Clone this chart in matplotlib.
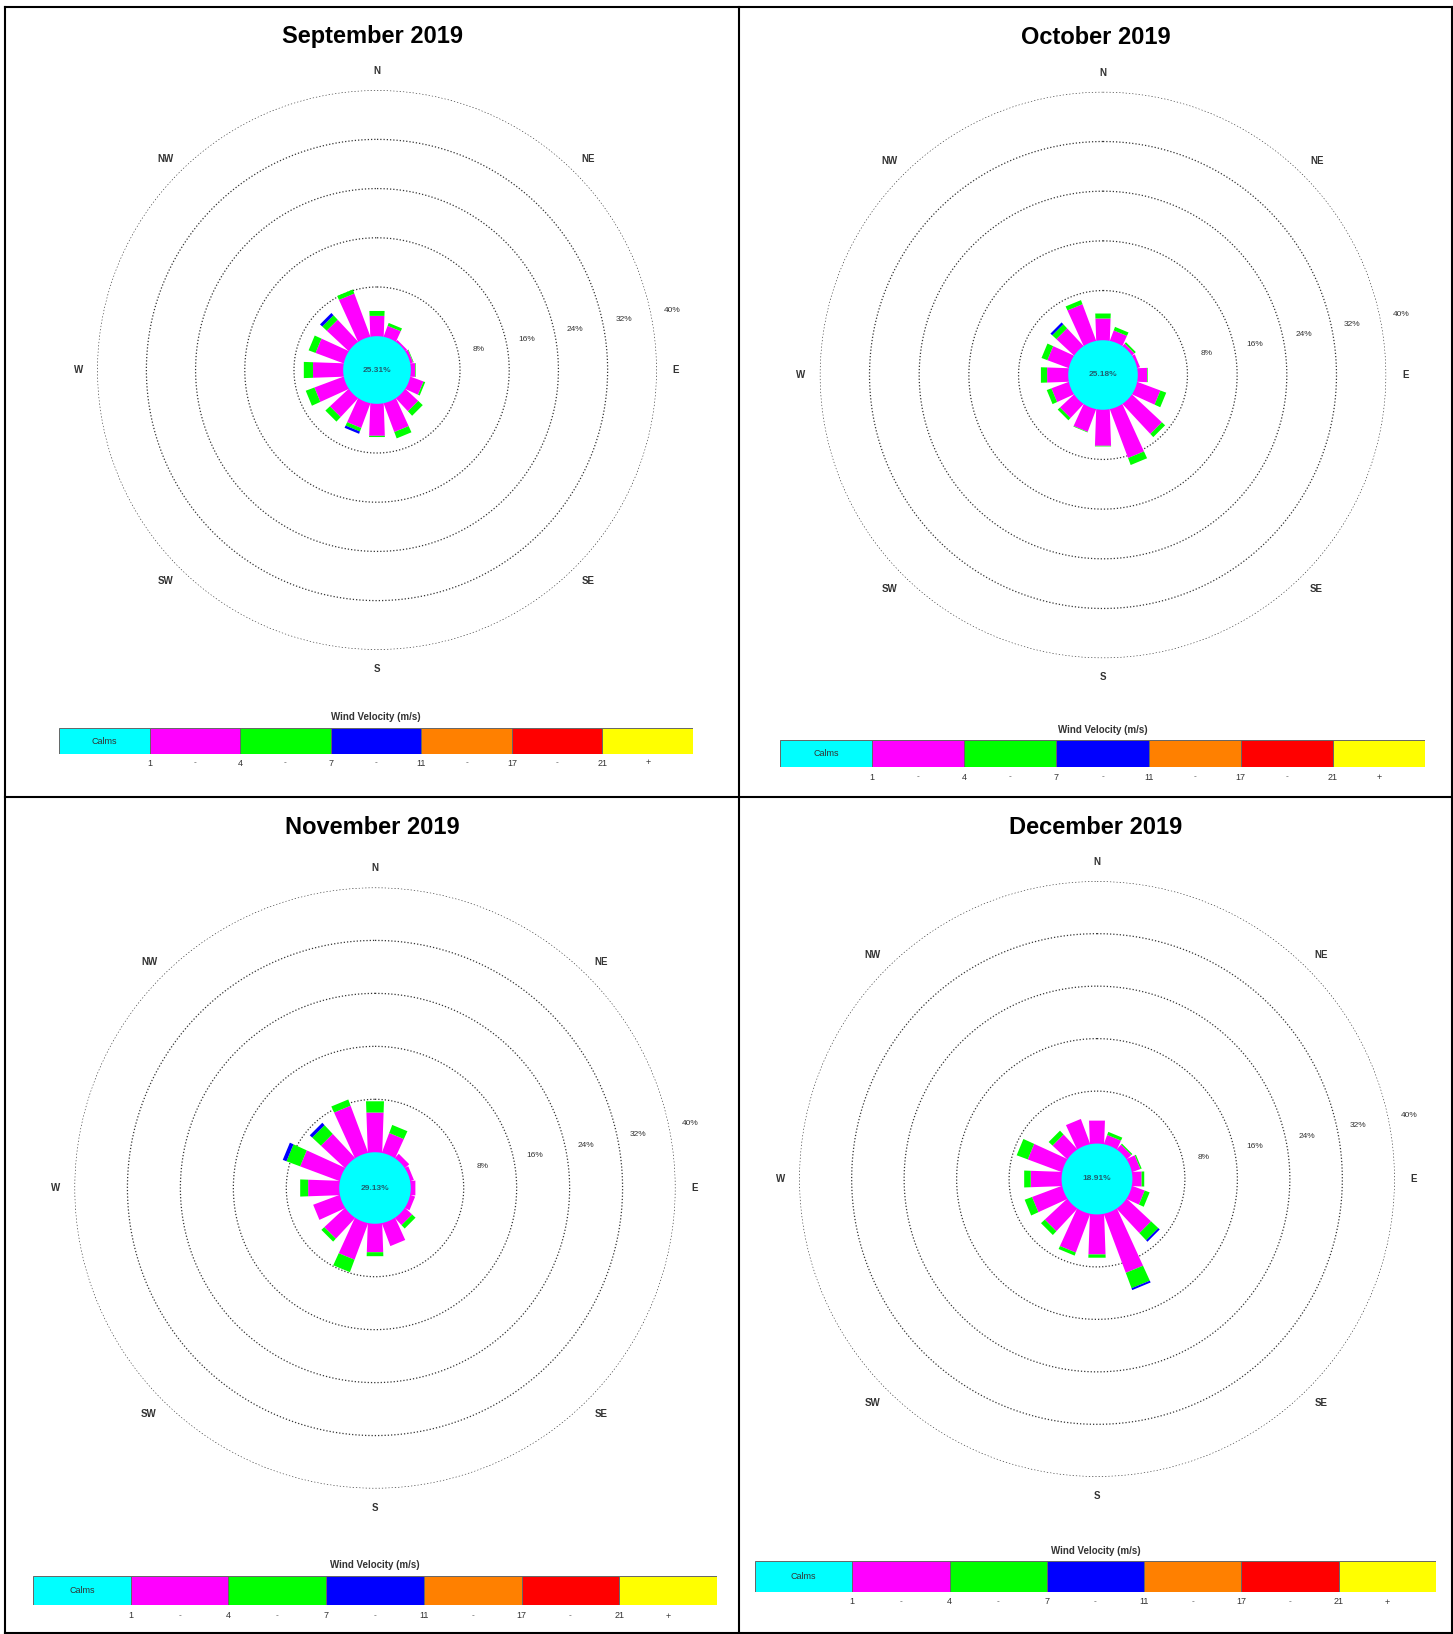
import numpy as np
import matplotlib.pyplot as plt
from matplotlib.lines import Line2D

plt.rcParams['font.family'] = ['Liberation Sans', 'DejaVu Sans']

W, H = 1453, 1634

directions = ['N', 'NNE', 'NE', 'ENE', 'E', 'ESE', 'SE', 'SSE',
              'S', 'SSW', 'SW', 'WSW', 'W', 'WNW', 'NW', 'NNW']
compass = ['N', 'NE', 'E', 'SE', 'S', 'SW', 'W', 'NW']
ring_levels = [8, 16, 24, 32, 40]

months = ['September 2019', 'October 2019', 'November 2019', 'December 2019']
calms = ['25.31%', '25.18%', '29.13%', '18.91%']

# frequency (%) per direction, per speed class (1-4, 4-7, 7-11 m/s)
sep_1_4 = [3.3, 1.8, 0.3, 0.4, 0.7, 2.2, 2.8, 4.9, 5.2, 4.2, 4.1, 5.0, 4.9, 4.8, 4.8, 7.4]
sep_4_7 = [0.8, 0.5, 0.0, 0.1, 0.1, 0.3, 1.0, 1.1, 0.2, 0.6, 1.0, 1.5, 1.5, 1.2, 1.0, 0.7]
sep_7_11 = [0, 0, 0, 0, 0, 0, 0, 0, 0, 0.4, 0, 0, 0, 0, 0.5, 0]

oct_1_4 = [3.5, 1.7, 0.45, 0.4, 1.5, 3.9, 6.5, 8.3, 5.8, 3.8, 3.0, 2.9, 3.4, 3.6, 3.8, 6.2]
oct_4_7 = [0.8, 0.6, 0.3, 0.0, 0.1, 1.0, 0.7, 1.2, 0.1, 0.1, 0.5, 0.8, 1.0, 1.0, 0.9, 0.7]
oct_7_11 = [0, 0, 0, 0, 0, 0, 0, 0, 0, 0, 0, 0, 0, 0, 0.4, 0]

nov_1_4 = [6.0, 3.1, 0.8, 0.5, 0.7, 0.7, 1.4, 3.6, 4.3, 5.8, 4.2, 4.2, 4.7, 6.3, 4.9, 7.5]
nov_4_7 = [1.7, 1.3, 0.0, 0.0, 0.0, 0.0, 0.7, 0.0, 0.6, 2.0, 0.6, 0.0, 1.2, 2.2, 1.8, 1.0]
nov_7_11 = [0, 0, 0, 0, 0, 0, 0, 0, 0, 0, 0, 0, 0, 0.6, 0.5, 0]

dec_1_4 = [3.5, 1.4, 0.9, 1.3, 1.4, 2.0, 5.0, 9.5, 6.1, 6.2, 4.6, 4.8, 4.7, 5.5, 3.0, 4.0]
dec_4_7 = [0.0, 0.5, 0.2, 0.2, 0.4, 0.8, 1.5, 2.5, 0.5, 0.5, 0.8, 1.2, 1.0, 1.8, 0.8, 0.0]
dec_7_11 = [0, 0, 0, 0, 0, 0, 0.3, 0.3, 0, 0, 0, 0, 0, 0, 0, 0]

speed_classes = [[sep_1_4, sep_4_7, sep_7_11],
                 [oct_1_4, oct_4_7, oct_7_11],
                 [nov_1_4, nov_4_7, nov_7_11],
                 [dec_1_4, dec_4_7, dec_7_11]]

legend_colors = ['#00FFFF', '#FF00FF', '#00FF00', '#0000FF', '#FF8000', '#FF0000', '#FFFF00']
speed_ticks = ['1', '4', '7', '11', '17', '21']

# rose layout in pixels: centre x, centre y, pixels per percent, calm radius (%)
rose_geom = [(377, 370, 6.15, 5.5), (1103, 375, 6.21, 5.6),
             (375, 1188, 6.62, 5.4), (1097, 1179, 6.56, 5.4)]
title_pos = [(372, 37), (1096, 37), (372, 827), (1096, 827)]
# legend bar: x0, x1, y top, y bottom, title y, tick y
legend_geom = [(59, 693, 728, 754, 717, 763), (780, 1425, 740, 767, 730, 777),
               (33, 717, 1576, 1605, 1565, 1616), (755, 1436, 1561, 1592, 1551, 1602)]


def petal(ax, th, r1, r2, color):
    # near-parallel spoke, widening slightly outward
    rr = np.array([r1, r2, r2, r1])
    hw = 0.9 + 0.035 * rr
    sgn = np.array([-1, -1, 1, 1])
    ax.fill(th + sgn * np.arctan2(hw, rr), np.hypot(rr, hw), color=color, lw=0, zorder=2)


def draw_rose(fig, geom, classes, calm_text):
    cx, cy, ppp, r0 = geom
    rmax = r0 + 40
    rad = ppp * rmax
    ax = fig.add_axes([(cx - rad) / W, (H - cy - rad) / H, 2 * rad / W, 2 * rad / H],
                      projection='polar')
    ax.set_theta_zero_location('N')
    ax.set_theta_direction(-1)
    ax.set_ylim(0, rmax)
    ax.axis('off')

    tt = np.linspace(0, 2 * np.pi, 400)
    for lev in ring_levels:
        ax.plot(tt, np.full_like(tt, r0 + lev), color='#333333', lw=0.9,
                ls=(0, (1, 1.6)), zorder=1)
        ax.text(np.deg2rad(78.5), r0 + lev + 21 / ppp, f'{lev}%', fontsize=6,
                ha='center', va='center', color='#333333')

    for i, lab in enumerate(compass):
        ax.text(np.deg2rad(45 * i), rmax + 19 / ppp, lab, fontsize=7, weight='bold',
                ha='center', va='center', color='#333333', clip_on=False)

    colors = legend_colors[1:4]
    for d in range(len(directions)):
        th = np.deg2rad(22.5 * d)
        base = r0 * 0.9
        top = r0
        for k, cls in enumerate(classes):
            v = cls[d]
            if v <= 0:
                continue
            petal(ax, th, base, top + v, colors[k])
            base = top + v
            top = base

    ax.fill(tt, np.full_like(tt, r0), color='#00FFFF', lw=0, zorder=3)
    ax.text(0, 0, calm_text, fontsize=6, weight='bold', color='#1f6070',
            ha='center', va='center', zorder=4)


def draw_legend(fig, geom):
    x0, x1, yt, yb, ty, tky = geom
    h = yb - yt
    lax = fig.add_axes([x0 / W, (H - yb) / H, (x1 - x0) / W, h / H])
    lax.barh(0, [1] * 7, left=np.arange(7), height=1, color=legend_colors,
             edgecolor='#666666', lw=0.7, align='center')
    lax.set_xlim(0, 7)
    lax.set_ylim(-0.5, 0.5)
    lax.axis('off')
    lax.text(0.5, 0, 'Calms', fontsize=6.5, ha='center', va='center', color='#333333')
    ytxt = -0.5 - (tky - yb) / h
    for i, s in enumerate(speed_ticks):
        lax.text(i + 1, ytxt, s, fontsize=6.5, ha='center', va='center',
                 color='#333333', clip_on=False)
        if i < len(speed_ticks) - 1:
            lax.text(i + 1.5, ytxt, '-', fontsize=6, ha='center', va='center',
                     color='#555555', clip_on=False)
    lax.text(6.5, ytxt, '+', fontsize=6.5, ha='center', va='center',
             color='#333333', clip_on=False)
    lax.text(3.5, 0.5 + (yt - ty) / h, 'Wind Velocity (m/s)', fontsize=7,
             weight='bold', ha='center', va='center', color='#333333', clip_on=False)


fig = plt.figure(figsize=(W / 100, H / 100), dpi=100)

for p in range(4):
    draw_rose(fig, rose_geom[p], speed_classes[p], calms[p])
    draw_legend(fig, legend_geom[p])
    tx, ty = title_pos[p]
    fig.text(tx / W, 1 - ty / H, months[p], fontsize=17, weight='bold',
             ha='center', va='center')

# panel frame
frame = [((5, 7), (1452, 7)), ((5, 1633), (1452, 1633)), ((5, 7), (5, 1633)),
         ((1452, 7), (1452, 1633)), ((739, 7), (739, 1633)), ((5, 797), (1452, 797))]
for (xa, ya), (xb, yb) in frame:
    fig.add_artist(Line2D([xa / W, xb / W], [1 - ya / H, 1 - yb / H],
                          transform=fig.transFigure, color='black', lw=1.5))

fig.savefig('out.png', dpi=100)
